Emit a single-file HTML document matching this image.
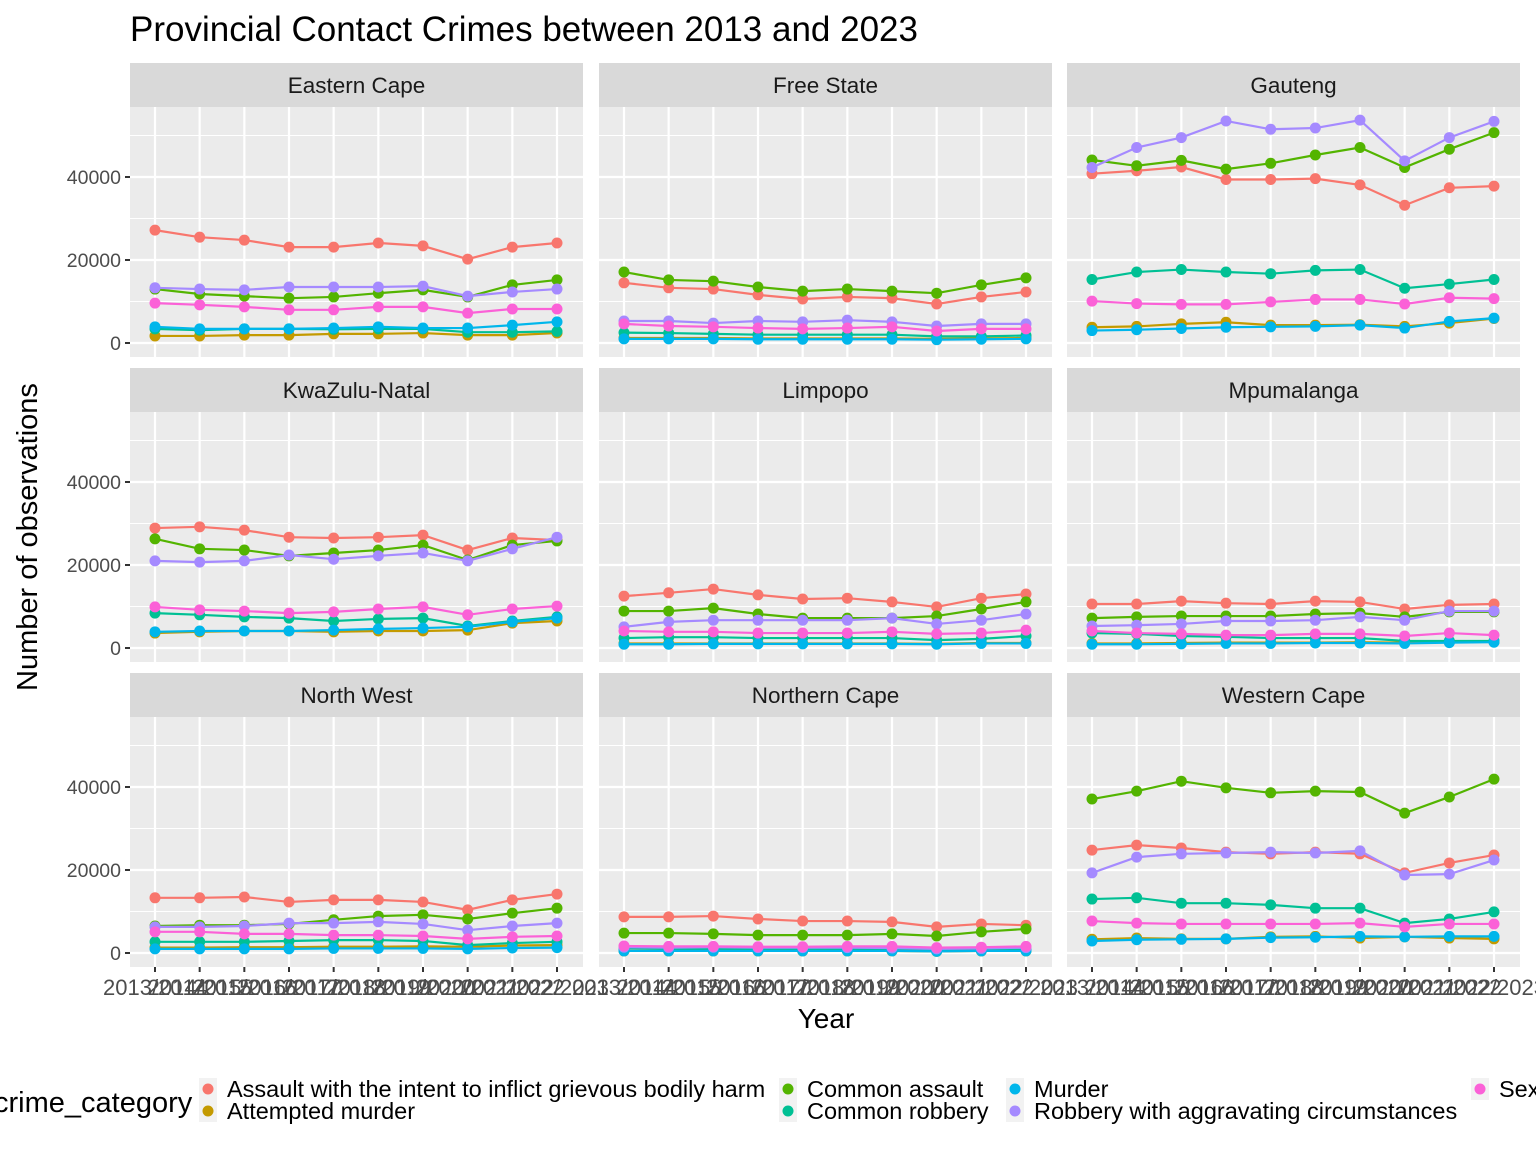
<!DOCTYPE html>
<html><head><meta charset="utf-8"><style>
body{margin:0;background:#fff;}
svg{display:block;font-family:"Liberation Sans",Arial,sans-serif;}
</style></head><body>
<svg id="chart" width="1536" height="1152" viewBox="0 0 1536 1152">
<text x="130" y="41" font-size="35" fill="#000">Provincial Contact Crimes between 2013 and 2023</text>
<text transform="translate(37,537) rotate(-90)" text-anchor="middle" font-size="29" fill="#000">Number of observations</text>
<text x="826" y="1028" text-anchor="middle" font-size="28" fill="#000">Year</text>
<g id="panels"></g>
<g id="legend"></g>
</svg>
<script>
const years = ["2013/2014","2014/2015","2015/2016","2016/2017","2017/2018","2018/2019","2019/2020","2020/2021","2021/2022","2022/2023"];
const categories = ["Assault with the intent to inflict grievous bodily harm","Attempted murder","Common assault","Common robbery","Murder","Robbery with aggravating circumstances","Sexual offences"];
const colors = ["#F8766D","#C49A00","#53B400","#00C094","#00B6EB","#A58AFF","#FB61D7"];
const yTicks = [0,20000,40000];
const provinces = ["Eastern Cape","Free State","Gauteng","KwaZulu-Natal","Limpopo","Mpumalanga","North West","Northern Cape","Western Cape"];
// values in thousands, order: GBH, Attempted murder, Common assault, Common robbery, Murder, Robbery aggr, Sexual
const easternCape = [
 [27.2,25.5,24.8,23.1,23.1,24.1,23.4,20.2,23.1,24.1],
 [1.7,1.7,1.9,1.9,2.2,2.2,2.4,1.9,1.9,2.4],
 [13,11.8,11.3,10.8,11.1,12,12.8,11.1,14,15.2],
 [3.4,3.1,3.4,3.4,3.3,3.4,3.4,2.6,2.6,2.8],
 [3.9,3.4,3.4,3.4,3.6,3.9,3.6,3.6,4.3,5.1],
 [13.3,13,12.8,13.5,13.5,13.5,13.7,11.3,12.3,13],
 [9.6,9.2,8.7,8,8,8.7,8.7,7.2,8.2,8.2]];
const freeState = [
 [14.5,13.3,13,11.6,10.6,11.1,10.8,9.4,11.1,12.3],
 [1.2,1.2,1.2,1.1,1.1,1.1,1.1,1,1.1,1.2],
 [17.1,15.2,14.9,13.5,12.5,13,12.5,12,14,15.7],
 [2.5,2.4,2.2,2,2,2,2,1.6,1.6,1.8],
 [1,1,1,0.9,0.9,0.9,0.9,0.8,0.9,1],
 [5.3,5.3,4.8,5.3,5.1,5.5,5.1,4.1,4.6,4.6],
 [4.6,4.1,3.9,3.6,3.4,3.6,3.9,2.9,3.4,3.4]];
const gauteng = [
 [40.8,41.5,42.4,39.4,39.4,39.6,38.1,33.2,37.4,37.8],
 [3.8,4,4.6,5,4.3,4.3,4.4,4,4.8,5.9],
 [44.1,42.7,44,41.9,43.3,45.3,47.1,42.3,46.7,50.7],
 [15.3,17.1,17.7,17.1,16.7,17.5,17.7,13.2,14.2,15.3],
 [3,3.2,3.5,3.8,3.9,4,4.3,3.6,5.2,6],
 [42.3,47.1,49.5,53.5,51.5,51.8,53.7,43.9,49.5,53.4],
 [10.1,9.5,9.3,9.3,9.9,10.5,10.5,9.4,10.9,10.7]];
const kwazuluNatal = [
 [28.9,29.2,28.4,26.7,26.5,26.7,27.2,23.6,26.5,26.0],
 [3.6,3.9,4.1,4.1,3.9,4.1,4.1,4.3,6,6.5],
 [26.3,23.9,23.6,22.2,22.9,23.6,24.8,21.2,24.8,25.8],
 [8.4,8,7.5,7.2,6.5,7,7.2,5.3,6.5,7.5],
 [3.9,4.1,4.1,4.1,4.3,4.6,4.8,5.1,6.3,7.2],
 [21,20.7,21,22.4,21.4,22.2,22.9,21,23.9,26.7],
 [9.9,9.2,8.9,8.4,8.7,9.4,9.9,8,9.4,10.1]];
const limpopo = [
 [12.5,13.3,14.2,12.8,11.8,12,11.1,9.9,12,13],
 [1.1,1.1,1.1,1.1,1.1,1.1,1.1,1,1.2,1.2],
 [8.9,8.9,9.6,8.2,7.2,7.2,7.2,7.7,9.4,11.1],
 [2.4,2.6,2.6,2.4,2.4,2.4,2.4,1.9,2.2,2.9],
 [0.9,0.9,1,1,1,1,1,0.9,1.1,1.1],
 [5.1,6.3,6.7,6.7,6.7,6.7,7.2,5.8,6.7,8.2],
 [4.1,3.9,3.9,3.6,3.6,3.6,3.9,3.4,3.6,4.3]];
const mpumalanga = [
 [10.6,10.6,11.3,10.8,10.6,11.3,11.1,9.4,10.4,10.6],
 [1.1,1.1,1.2,1.3,1.3,1.3,1.4,1.3,1.4,1.5],
 [7.2,7.5,7.7,7.7,7.7,8.2,8.4,7.5,8.7,8.7],
 [3.6,3.4,2.9,2.7,2.4,2.4,2.4,1.7,1.7,1.7],
 [0.9,0.9,1,1.1,1.1,1.2,1.2,1.1,1.3,1.4],
 [5.3,5.5,5.8,6.5,6.5,6.7,7.5,6.7,8.9,8.9],
 [4.1,3.6,3.4,3.1,3.1,3.4,3.4,2.9,3.6,3.1]];
const northWest = [
 [13.3,13.3,13.5,12.3,12.8,12.8,12.3,10.4,12.8,14.2],
 [1.3,1.3,1.4,1.4,1.5,1.5,1.6,1.5,1.8,1.9],
 [6.5,6.7,6.7,7,8,8.9,9.2,8.2,9.6,10.8],
 [2.7,2.7,2.7,2.9,3.1,3.1,2.9,1.9,2.4,2.7],
 [1,1,1,1,1.1,1.1,1.1,1,1.2,1.3],
 [6.3,6.3,6.5,7.2,7.2,7.5,7,5.5,6.5,7.2],
 [5.1,5.1,4.6,4.6,4.3,4.3,4.1,3.4,3.9,4.1]];
const northernCape = [
 [8.7,8.7,8.9,8.2,7.7,7.7,7.5,6.3,7,6.7],
 [0.5,0.5,0.5,0.5,0.5,0.5,0.5,0.4,0.5,0.5],
 [4.8,4.8,4.6,4.3,4.3,4.3,4.6,4.1,5.1,5.8],
 [1.1,1,1,1,0.9,0.9,0.9,0.7,0.8,0.8],
 [0.5,0.5,0.5,0.5,0.5,0.5,0.5,0.4,0.5,0.5],
 [1.4,1.3,1.4,1.3,1.3,1.3,1.2,1,1.1,1.3],
 [1.7,1.6,1.6,1.5,1.5,1.6,1.6,1.3,1.4,1.6]];
const westernCape = [
 [24.8,26,25.3,24.3,23.9,24.3,23.9,19.3,21.7,23.6],
 [3.3,3.6,3.4,3.4,3.9,4,3.6,3.9,3.6,3.4],
 [37.1,39,41.4,39.8,38.6,39,38.8,33.7,37.6,41.9],
 [13,13.3,12,12,11.6,10.8,10.8,7.2,8.2,9.9],
 [2.9,3.2,3.3,3.4,3.7,3.8,4,3.9,4.0,4.0],
 [19.3,23.1,23.9,24.1,24.3,24.1,24.6,18.8,19,22.4],
 [7.7,7.2,7,7,7,7,7.2,6.3,7,7]];
const provinceData = [easternCape,freeState,gauteng,kwazuluNatal,limpopo,mpumalanga,northWest,northernCape,westernCape];

const NS="http://www.w3.org/2000/svg";
function mk(tag,attrs,parent){const e=document.createElementNS(NS,tag);for(const k in attrs)e.setAttribute(k,attrs[k]);parent.appendChild(e);return e;}
const colX=[130,599,1067], panelW=453, rowStripY=[63,368,673], stripH=44, panelH=250;
const root=document.getElementById('panels');
provinces.forEach((name,pi)=>{
  const c=pi%3, r=Math.floor(pi/3);
  const x0=colX[c], sy=rowStripY[r], py=sy+stripH;
  const g=mk('g',{},root);
  
  
  const strip=mk('rect',{x:x0,y:sy,width:panelW,height:stripH,fill:'#D9D9D9'},g);
  
  
  const st=mk('text',{x:x0+panelW/2,y:sy+30,'text-anchor':'middle','font-size':'22.5',fill:'#1A1A1A'},g);
  st.textContent=name;
  
  
  const bg=mk('rect',{x:x0,y:py,width:panelW,height:panelH,fill:'#EBEBEB'},g);
  
  
  const zeroY=py+236;
  const yScale=v=>zeroY-v*166/40000;
  const xScale=i=>x0+25+i*(panelW-51)/(years.length-1);
  [10000,30000,50000].forEach(v=>mk('line',{x1:x0,x2:x0+panelW,y1:yScale(v),y2:yScale(v),stroke:'#fff','stroke-width':1},g));
  yTicks.forEach(v=>mk('line',{x1:x0,x2:x0+panelW,y1:yScale(v),y2:yScale(v),stroke:'#fff','stroke-width':2.2},g));
  years.forEach((y,i)=>mk('line',{x1:xScale(i),x2:xScale(i),y1:py,y2:py+panelH,stroke:'#fff','stroke-width':2.2},g));
  if(c===0){
    yTicks.forEach(v=>{
      mk('line',{x1:x0-5,x2:x0,y1:yScale(v),y2:yScale(v),stroke:'#333','stroke-width':2},g);
      const t=mk('text',{x:x0-9,y:yScale(v)+7,'text-anchor':'end','font-size':'19.5',fill:'#4D4D4D'},g);
      t.textContent=v;
      
      
    });
  }
  if(r===2){
    years.forEach((y,i)=>{
      mk('line',{x1:xScale(i),x2:xScale(i),y1:py+panelH,y2:py+panelH+5,stroke:'#333','stroke-width':2},g);
      const t=mk('text',{x:xScale(i),y:py+panelH+28,'text-anchor':'middle','font-size':'22',fill:'#4D4D4D'},g);
      t.textContent=y;
      
      
    });
  }
  const data=provinceData[pi];
  categories.forEach((cat,ci)=>{
    const vals=data[ci];
    const pts=vals.map((v,i)=>xScale(i)+','+yScale(v*1000)).join(' ');
    const pl=mk('polyline',{points:pts,fill:'none',stroke:colors[ci],'stroke-width':2.2},g);
    
    
    vals.forEach((v,i)=>{
      const pt=mk('circle',{cx:xScale(i),cy:yScale(v*1000),r:5.5,fill:colors[ci]},g);
      
      
    });
  });
});
// legend
const lg=document.getElementById('legend');
const lt=mk('text',{x:-6,y:1112,'font-size':'29',fill:'#000'},lg);
lt.textContent='crime_category';


const legPos=[[208,1089],[208,1111],[788,1089],[788,1111],[1015,1089],[1015,1111],[1480,1089]];
categories.forEach((cat,ci)=>{
  const [lx,ly]=legPos[ci];
  const kg=mk('g',{},lg);
  
  
  mk('rect',{x:lx-9,y:ly-11,width:18,height:22,fill:'#F2F2F2'},kg);
  mk('circle',{cx:lx,cy:ly,r:5.5,fill:colors[ci]},kg);
  const t=mk('text',{x:lx+19,y:ly+8,'font-size':'23.5',fill:'#000'},kg);
  t.textContent=cat;
});
</script>
</body></html>
